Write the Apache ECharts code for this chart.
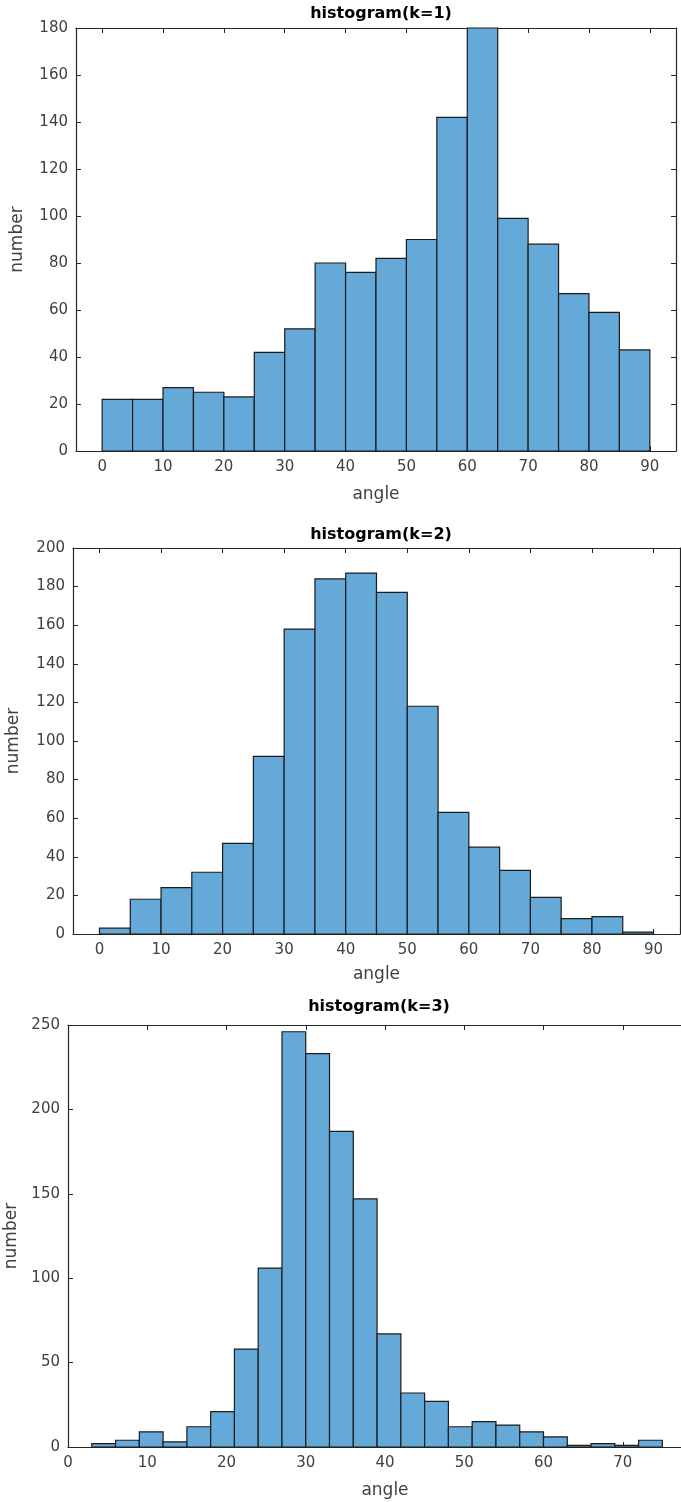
<!DOCTYPE html>
<html>
<head>
<meta charset="utf-8">
<title>histogram</title>
<script src="https://cdn.jsdelivr.net/npm/echarts@6/dist/echarts.min.js"></script>
<style>
  html, body { margin: 0; padding: 0; background: #fff; }
  #chart { width: 681px; height: 1502px; }
</style>
</head>
<body>
<div id="chart"></div>
<script>
// bin edges (start/end of every bar) and counts
var edges1 = [0, 5, 10, 15, 20, 25, 30, 35, 40, 45, 50, 55, 60, 65, 70, 75, 80, 85, 90];
var counts1 = [22, 22, 27, 25, 23, 42, 52, 80, 76, 82, 90, 142, 180, 99, 88, 67, 59, 43];

var edges2 = [0, 5, 10, 15, 20, 25, 30, 35, 40, 45, 50, 55, 60, 65, 70, 75, 80, 85, 90];
var counts2 = [3, 18, 24, 32, 47, 92, 158, 184, 187, 177, 118, 63, 45, 33, 19, 8, 9, 1];

var edges3 = [3, 6, 9, 12, 15, 18, 21, 24, 27, 30, 33, 36, 39, 42, 45, 48, 51, 54, 57, 60, 63, 66, 69, 72, 75];
var counts3 = [2, 4, 9, 3, 12, 21, 58, 106, 246, 233, 187, 147, 67, 32, 27, 12, 15, 13, 9, 6, 1, 2, 1, 4];

var titles = ['histogram(k=1)', 'histogram(k=2)', 'histogram(k=3)'];
var xTicks12 = [0, 10, 20, 30, 40, 50, 60, 70, 80, 90];
var xTicks3 = [0, 10, 20, 30, 40, 50, 60, 70, 80];

var FONT = "'DejaVu Sans', 'Liberation Sans', Arial, sans-serif";
var AXIS_COLOR = '#262626';
var LABEL_COLOR = '#404040';

function toRows(edges, counts) {
  var rows = [];
  for (var i = 0; i < counts.length; i++) {
    rows.push([edges[i], edges[i + 1], counts[i]]);
  }
  return rows;
}

function renderBar(params, api) {
  var p0 = api.coord([api.value(0), 0]);
  var p1 = api.coord([api.value(1), api.value(2)]);
  return {
    type: 'rect',
    shape: { x: p0[0], y: p1[1], width: p1[0] - p0[0], height: p0[1] - p1[1] },
    style: { fill: '#64a9d7', stroke: '#1c1c1c', lineWidth: 1.2 }
  };
}

// one bottom/left labelled pair plus a top/right pair for the box
function xAxes(gi, min, max, ticks, gap) {
  var base = {
    type: 'value', gridIndex: gi, min: min, max: max,
    axisLine: { show: true, onZero: false, lineStyle: { color: AXIS_COLOR, width: 1.2 } },
    splitLine: { show: false }
  };
  var bottom = Object.assign({}, base, {
    position: 'bottom',
    name: 'angle', nameLocation: 'middle', nameGap: gap,
    nameTextStyle: { fontFamily: FONT, fontSize: 17, color: LABEL_COLOR },
    axisTick: { show: true, inside: true, length: 5, customValues: ticks, lineStyle: { color: AXIS_COLOR } },
    axisLabel: { customValues: ticks, margin: 9, fontFamily: FONT, fontSize: 15, color: LABEL_COLOR }
  });
  var top = Object.assign({}, base, {
    position: 'top',
    axisTick: { show: true, inside: true, length: 5, customValues: ticks, lineStyle: { color: AXIS_COLOR } },
    axisLabel: { show: false }
  });
  return [bottom, top];
}

function yAxes(gi, max, step, gap) {
  var base = {
    type: 'value', gridIndex: gi, min: 0, max: max, interval: step,
    axisLine: { show: true, onZero: false, lineStyle: { color: AXIS_COLOR, width: 1.2 } },
    axisTick: { show: true, inside: true, length: 5, lineStyle: { color: AXIS_COLOR } },
    splitLine: { show: false }
  };
  var left = Object.assign({}, base, {
    position: 'left',
    name: 'number', nameLocation: 'middle', nameGap: gap,
    nameTextStyle: { fontFamily: FONT, fontSize: 17, color: LABEL_COLOR },
    axisLabel: { margin: 8, fontFamily: FONT, fontSize: 15, color: LABEL_COLOR }
  });
  var right = Object.assign({}, base, { position: 'right', axisLabel: { show: false } });
  return [left, right];
}

var chart = echarts.init(document.getElementById('chart'), null, { renderer: 'canvas' });

var titleStyle = { fontFamily: FONT, fontSize: 16, fontWeight: 'bold', color: '#000' };

var option = {
  backgroundColor: '#ffffff',
  animation: false,
  title: [
    { text: titles[0], left: 376, top: 1, textAlign: 'center', textStyle: titleStyle },
    { text: titles[1], left: 376, top: 522, textAlign: 'center', textStyle: titleStyle },
    { text: titles[2], left: 374, top: 994, textAlign: 'center', textStyle: titleStyle }
  ],
  grid: [
    { left: 76, top: 28, width: 600, height: 423, outerBoundsMode: 'none' },
    { left: 73, top: 548, width: 607, height: 386, outerBoundsMode: 'none' },
    { left: 68, top: 1025, width: 634, height: 422, outerBoundsMode: 'none' }
  ],
  xAxis: [].concat(
    xAxes(0, -4.3, 94.3, xTicks12, 35),
    xAxes(1, -4.3, 94.3, xTicks12, 32),
    xAxes(2, 0, 80, xTicks3, 35)
  ),
  yAxis: [].concat(
    yAxes(0, 180, 20, 50),
    yAxes(1, 200, 20, 51),
    yAxes(2, 250, 50, 47)
  ),
  series: [
    { type: 'custom', xAxisIndex: 0, yAxisIndex: 0, renderItem: renderBar,
      encode: { x: [0, 1], y: 2 }, data: toRows(edges1, counts1) },
    { type: 'custom', xAxisIndex: 2, yAxisIndex: 2, renderItem: renderBar,
      encode: { x: [0, 1], y: 2 }, data: toRows(edges2, counts2) },
    { type: 'custom', xAxisIndex: 4, yAxisIndex: 4, renderItem: renderBar,
      encode: { x: [0, 1], y: 2 }, data: toRows(edges3, counts3) }
  ]
};

chart.setOption(option);
</script>
</body>
</html>
